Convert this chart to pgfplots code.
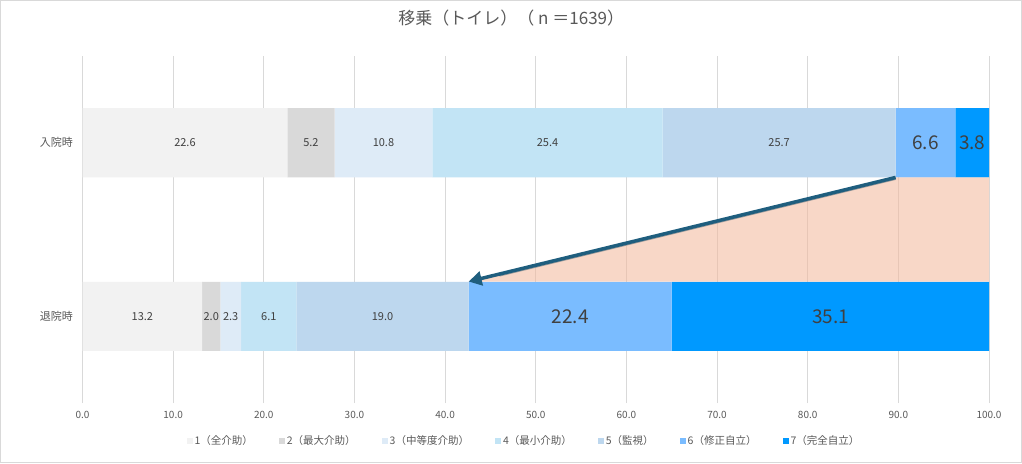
\documentclass[border=0pt]{standalone}
\usepackage{fontspec}
\setmainfont{Noto Sans CJK JP}
\usepackage{pgfplots}
\usepackage{pgfplotstable}
\pgfplotsset{compat=1.18}
\usetikzlibrary{arrows.meta}
\definecolor{c1}{HTML}{F2F2F2}
\definecolor{c2}{HTML}{D9D9D9}
\definecolor{c3}{HTML}{DEEBF7}
\definecolor{c4}{HTML}{C2E4F5}
\definecolor{c5}{HTML}{BDD7EE}
\definecolor{c6}{HTML}{7ABCFF}
\definecolor{c7}{HTML}{0099FF}
\definecolor{txt}{HTML}{595959}
\definecolor{lbl}{HTML}{404040}
\definecolor{arr}{HTML}{1F5E7E}
\definecolor{peach}{HTML}{F4B79A}
\definecolor{frame}{HTML}{D9D9D9}

\pgfplotstableread{
y s1 s2 s3 s4 s5 s6 s7
0 13.2 2.0 2.3 6.1 19.0 22.4 35.1
1 22.6 5.2 10.8 25.4 25.7 6.6 3.8
}\datatable

\pgfplotstableread{
x y v
11.3 1 22.6
25.2 1 5.2
33.2 1 10.8
51.3 1 25.4
76.85 1 25.7
6.6 0 13.2
14.2 0 2.0
16.35 0 2.3
20.55 0 6.1
33.1 0 19.0
}\smalllabels

\pgfplotstableread{
x y v
93.0 1 6.6
98.15 1 3.8
53.8 0 22.4
82.55 0 35.1
}\biglabels

\pgfplotsset{
  mybar/.style={draw=none,
    legend image code/.code={\fill[##1, draw=none] (0pt,-3pt) rectangle (6pt,3pt);}},
  base/.style={
    scale only axis, width=906.5pt, height=347pt,
    at={(82.5pt,60pt)}, anchor=south west,
    xmin=0, xmax=100, ymin=-0.5, ymax=1.5,
  }
}

\begin{document}
\begin{tikzpicture}
\fill[white] (0,0) rectangle (1022pt,463pt);
\draw[frame, line width=1pt] (0.5pt,0.5pt) rectangle (1021.5pt,462.5pt);
\begin{axis}[base,
  xbar stacked, bar width=69pt,
  xtick={0,10,...,100},
  ytick={0,1}, yticklabels={退院時,入院時},
  xmajorgrids, grid style={c2, line width=0.9pt},
  axis line style={draw=none}, tick style={draw=none},
  /pgf/number format/assume math mode=true,
  xticklabel style={/pgf/number format/.cd, fixed, fixed zerofill, precision=1, /tikz/.cd,
    font=\fontsize{10}{12}\selectfont, text=txt, yshift=-5pt},
  yticklabel style={font=\fontsize{11}{13}\selectfont, text=txt, xshift=-6pt},
  title={移乗（トイレ）（ n ＝1639）},
  title style={at={(0.473,1.092)}, anchor=center, font=\fontsize{17}{20}\selectfont, text=txt},
  legend columns=7,
  legend style={at={(0.487,-0.11)}, anchor=center, draw=none, fill=none,
    font=\fontsize{10.5}{12}\selectfont, text=txt,
    /tikz/every even column/.append style={column sep=24pt}},
]
\addplot[fill=c1, mybar] table[x=s1, y=y] \datatable;
\addplot[fill=c2, mybar] table[x=s2, y=y] \datatable;
\addplot[fill=c3, mybar] table[x=s3, y=y] \datatable;
\addplot[fill=c4, mybar] table[x=s4, y=y] \datatable;
\addplot[fill=c5, mybar] table[x=s5, y=y] \datatable;
\addplot[fill=c6, mybar] table[x=s6, y=y] \datatable;
\addplot[fill=c7, mybar] table[x=s7, y=y] \datatable;
\legend{1（全介助）,2（最大介助）,3（中等度介助）,4（最小介助）,5（監視）,6（修正自立）,7（完全自立）}
\end{axis}
\begin{axis}[base, hide axis, clip=false]
\addplot[draw=none, fill=peach, fill opacity=0.55] coordinates {(89.7,0.8) (100,0.8) (100,0.2) (42.6,0.2)} -- cycle;
\addplot[gray!80, line width=1.5pt] coordinates {(89.7,0.790) (46,0.233)};
\addplot[arr, line width=3.5pt, -{Triangle[length=13pt,width=14pt]}] coordinates {(89.7,0.8) (42.6,0.2)};
\addplot[draw=none, mark=none, nodes near coords, point meta=explicit symbolic,
  every node near coord/.append style={anchor=center, font=\fontsize{11}{13}\selectfont, text=lbl}]
  table[x=x, y=y, meta=v] \smalllabels;
\addplot[draw=none, mark=none, nodes near coords, point meta=explicit symbolic,
  every node near coord/.append style={anchor=center, font=\fontsize{19}{22}\selectfont, text=lbl}]
  table[x=x, y=y, meta=v] \biglabels;
\end{axis}
\end{tikzpicture}
\end{document}
